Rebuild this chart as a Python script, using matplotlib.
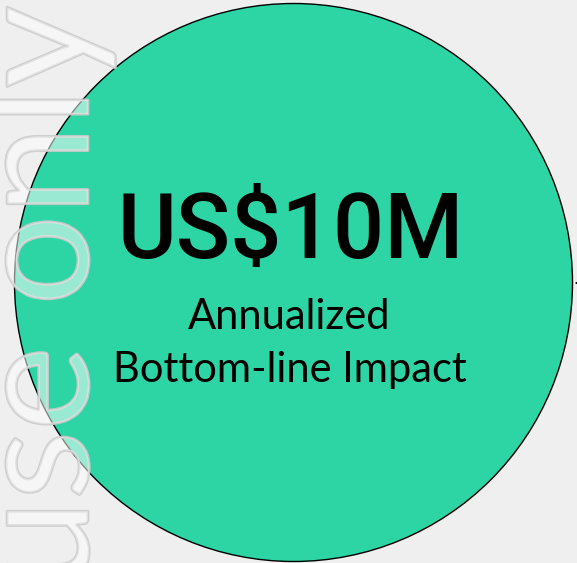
import matplotlib
matplotlib.use("Agg")
import matplotlib.pyplot as plt
from matplotlib.patches import Circle
import matplotlib.patheffects as pe

# data
value_label = "US$10M"
subtitle_lines = ["Annualized", "Bottom-line Impact"]
watermark = "use only"

W, H = 577, 563
fig = plt.figure(figsize=(W / 100, H / 100), dpi=100)
fig.patch.set_facecolor("#efefef")
ax = fig.add_axes([0, 0, 1, 1])
ax.set_xlim(0, W)
ax.set_ylim(H, 0)
ax.set_aspect("equal")
ax.axis("off")

cx, cy, r = 293.5, 282.5, 279
ax.add_patch(Circle((cx, cy), r, facecolor="#2dd4a4", edgecolor="black", lw=1.0, zorder=1))

ax.annotate("", xy=(572, 283), xytext=(595, 283),
            arrowprops=dict(arrowstyle="->", color="black", lw=0.8), annotation_clip=False, zorder=2)

ax.text(cx - 3, 258, value_label, ha="center", va="baseline", fontsize=65,
        family="Roboto", fontweight="medium", color="black", zorder=3)
ax.text(cx - 4, 329, subtitle_lines[0], ha="center", va="baseline", fontsize=30,
        family="Lato", fontweight="normal", color="black", zorder=3)
ax.text(cx - 4, 382, subtitle_lines[1], ha="center", va="baseline", fontsize=30,
        family="Lato", fontweight="normal", color="black", zorder=3)

wm = ax.text(88, 589, watermark, rotation=90, rotation_mode="anchor", ha="left", va="baseline",
             fontsize=115, family="Lato", fontweight="normal", color=(1, 1, 1, 0.22), zorder=4)
wm.set_path_effects([pe.withStroke(linewidth=2.0, foreground=(0.80, 0.80, 0.80, 0.9)),
                     pe.Normal()])

fig.savefig("out.png", dpi=100, facecolor=fig.get_facecolor())
